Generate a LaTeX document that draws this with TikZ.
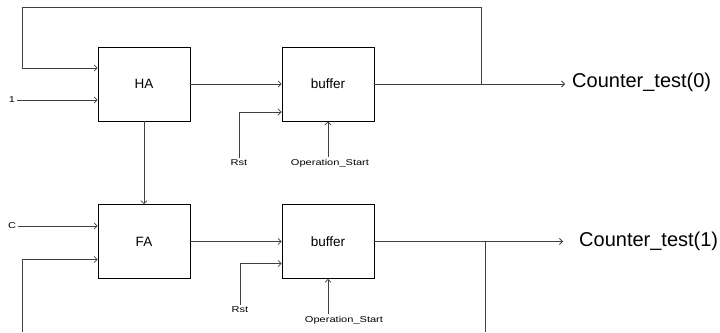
\documentclass[tikz,border=0pt]{standalone}
\usepackage{fontspec}
\setmainfont{Liberation Sans}
\newfontfamily\widefont[FakeStretch=1.3]{Liberation Sans}
\usetikzlibrary{arrows.meta}

\begin{document}
\begin{tikzpicture}[
    x=1pt, y=-1pt,
    block/.style={rectangle, draw, line width=0.7pt, minimum width=92pt, minimum height=74pt, font=\fontsize{13.5}{16}\selectfont, text centered},
    sig/.style={inner sep=2pt, font=\widefont\fontsize{8.5}{10}\selectfont},
    outlbl/.style={anchor=west, inner sep=2pt, font=\fontsize{20}{24}\selectfont},
    wire/.style={line width=0.8pt, black!75},
    link/.style={wire, -{Straight Barb[length=3pt,width=6pt]}}
]
\useasboundingbox (0,0) rectangle (720,332);

% Blocs
\node[block] (ha) at (144,84) {HA};
\node[block] (buf0) at (328,84) {buffer};
\node[block] (fa) at (144,241.5) {FA};
\node[block] (buf1) at (328,241.5) {buffer};

% Entrees et sorties
\node[sig] (in1) at (12,100) {1};
\node[sig] (inc) at (12,226) {C};
\node[sig] (rst0) at (239,163) {Rst};
\node[sig] (op0) at (330,163) {Operation\_Start};
\node[sig] (rst1) at (240,310) {Rst};
\node[sig] (op1) at (344,320) {Operation\_Start};
\node[outlbl] (out0) at (570,82) {Counter\_test(0)};
\node[outlbl] (out1) at (577,241) {Counter\_test(1)};

\coordinate (tap0) at (481,84);
\coordinate (top) at (22,7);
\coordinate (tap1) at (485,242);
\coordinate (tap1end) at (485,332);
\coordinate (bot) at (22,332);

% Connexions
\draw[link] (in1.east) -- (in1.east -| ha.west);
\draw[link] (inc.east) -- (inc.east -| fa.west);
\draw[link] (tap0) |- (top) |- ([yshift=16pt]ha.west);
\draw[link] (bot) |- ([yshift=-18pt]fa.west);
\draw[link] (ha) -- (buf0);
\draw[link] (fa) -- (buf1);
\draw[link] (ha) -- (fa);
\draw[link] (rst0.north) |- ([yshift=-28pt]buf0.west);
\draw[link] (rst1.north) |- ([yshift=-22pt]buf1.west);
\draw[link] (buf0.south |- op0.north) -- (buf0.south);
\draw[link] (buf1.south |- op1.north) -- (buf1.south);
\draw[link, shorten >=5pt] (buf0.east) -- (buf0.east -| out0.west);
\draw[link, shorten >=14pt] (buf1.east) -- (buf1.east -| out1.west);
\draw[wire] (tap1) -- (tap1end);

\end{tikzpicture}
\end{document}
